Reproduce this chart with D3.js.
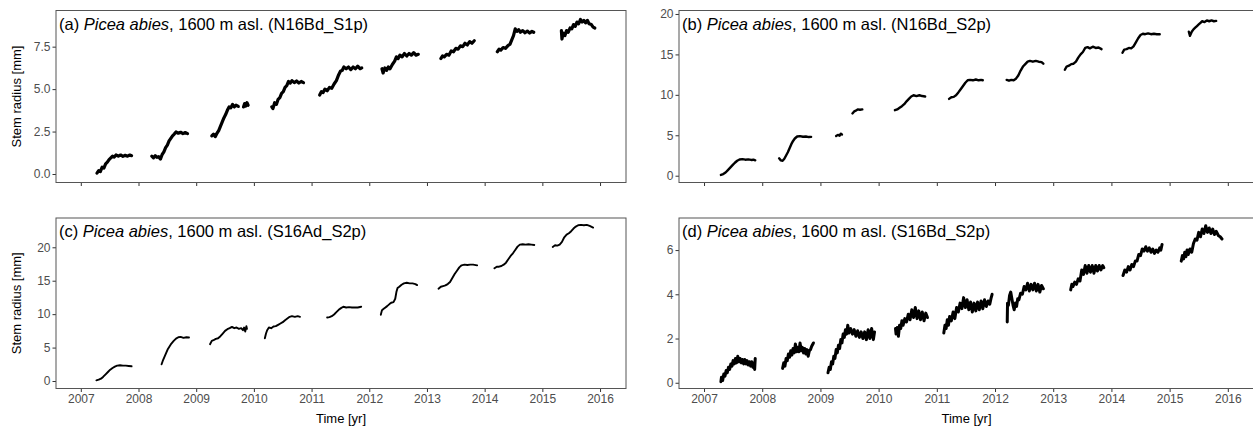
<!DOCTYPE html>
<html>
<head>
<meta charset="utf-8">
<script src="https://cdn.jsdelivr.net/npm/d3@7"></script>
<style>
  body { margin: 0; background: #fff; }
  svg { font-family: "Liberation Sans", Arial, Helvetica, sans-serif; }
</style>
</head>
<body>
<svg width="1253" height="431"></svg>
<script>
// Panel labels and sensor codes
var panelLetters = ["a", "b", "c", "d"];
var sensorCodes = ["N16Bd_S1p", "N16Bd_S2p", "S16Ad_S2p", "S16Bd_S2p"];

// Tick labels
var yearTicks = [2007, 2008, 2009, 2010, 2011, 2012, 2013, 2014, 2015, 2016];
var yTicksA = [0, 2.5, 5, 7.5];
var yTicksB = [0, 5, 10, 15, 20];
var yTicksC = [0, 5, 10, 15, 20];
var yTicksD = [0, 2, 4, 6];

// Stem radius [mm] per season, [year, value]
var radiusA = [
  [[2007.28,0.05],[2007.31,0.2],[2007.34,0.15],[2007.37,0.4],[2007.40,0.35],[2007.43,0.6],[2007.46,0.7],[2007.49,0.85],[2007.52,0.95],[2007.55,1.05],[2007.58,1.0],[2007.61,1.12],[2007.65,1.05],[2007.69,1.12],[2007.73,1.04],[2007.77,1.1],[2007.81,1.05],[2007.85,1.12],[2007.88,1.08]],
  [[2008.23,1.05],[2008.26,0.95],[2008.29,1.08],[2008.32,0.98],[2008.35,1.02],[2008.38,0.88],[2008.41,1.15],[2008.44,1.3],[2008.47,1.55],[2008.50,1.7],[2008.53,1.95],[2008.56,2.1],[2008.59,2.25],[2008.62,2.35],[2008.65,2.48],[2008.69,2.4],[2008.73,2.46],[2008.77,2.38],[2008.81,2.44],[2008.85,2.38]],
  [[2009.27,2.25],[2009.30,2.35],[2009.33,2.2],[2009.36,2.4],[2009.39,2.55],[2009.42,2.8],[2009.45,3.05],[2009.48,3.3],[2009.51,3.5],[2009.54,3.75],[2009.57,3.95],[2009.60,3.9],[2009.63,4.1],[2009.66,3.95],[2009.69,4.05],[2009.73,3.98]],
  [[2009.82,3.95],[2009.84,4.15],[2009.86,4.0],[2009.88,4.2],[2009.90,4.05]],
  [[2010.31,3.95],[2010.33,3.85],[2010.36,4.2],[2010.39,4.1],[2010.42,4.4],[2010.45,4.5],[2010.48,4.75],[2010.51,4.85],[2010.54,5.1],[2010.57,5.2],[2010.60,5.45],[2010.63,5.35],[2010.66,5.5],[2010.70,5.38],[2010.74,5.48],[2010.78,5.36],[2010.82,5.45],[2010.86,5.38]],
  [[2011.14,4.65],[2011.17,4.85],[2011.20,4.8],[2011.23,5.0],[2011.27,4.9],[2011.31,5.1],[2011.35,5.05],[2011.39,5.3],[2011.43,5.5],[2011.47,5.85],[2011.50,6.05],[2011.53,6.1],[2011.56,6.3],[2011.60,6.2],[2011.64,6.3],[2011.68,6.15],[2011.72,6.3],[2011.76,6.2],[2011.80,6.35],[2011.84,6.2],[2011.87,6.25]],
  [[2012.22,6.2],[2012.24,5.95],[2012.27,6.25],[2012.30,6.1],[2012.33,6.3],[2012.36,6.2],[2012.40,6.45],[2012.44,6.65],[2012.47,6.9],[2012.50,6.8],[2012.53,7.0],[2012.57,6.9],[2012.61,7.1],[2012.65,6.95],[2012.69,7.1],[2012.73,7.0],[2012.77,7.15],[2012.81,7.0],[2012.85,7.05]],
  [[2013.24,6.8],[2013.27,6.95],[2013.30,6.9],[2013.34,7.05],[2013.38,7.0],[2013.42,7.25],[2013.46,7.2],[2013.50,7.4],[2013.54,7.35],[2013.58,7.55],[2013.62,7.5],[2013.66,7.7],[2013.70,7.6],[2013.74,7.8],[2013.78,7.7],[2013.82,7.85]],
  [[2014.22,7.2],[2014.25,7.35],[2014.28,7.3],[2014.32,7.45],[2014.36,7.4],[2014.40,7.55],[2014.44,7.65],[2014.47,7.9],[2014.50,8.15],[2014.53,8.55],[2014.56,8.4],[2014.59,8.5],[2014.62,8.35],[2014.66,8.45],[2014.70,8.32],[2014.74,8.42],[2014.78,8.3],[2014.82,8.4],[2014.85,8.35]],
  [[2015.33,8.45],[2015.34,7.95],[2015.36,8.3],[2015.39,8.15],[2015.42,8.45],[2015.45,8.35],[2015.48,8.6],[2015.51,8.55],[2015.54,8.8],[2015.57,8.7],[2015.60,8.95],[2015.63,8.85],[2015.66,9.1],[2015.69,8.95],[2015.72,9.05],[2015.75,8.9],[2015.78,9.05],[2015.81,8.85],[2015.85,8.8],[2015.88,8.65],[2015.91,8.6]]
];

var radiusB = [
  [[2007.29,0.1],[2007.33,0.2],[2007.37,0.4],[2007.41,0.7],[2007.45,1.0],[2007.49,1.3],[2007.53,1.6],[2007.57,1.85],[2007.61,2.0],[2007.66,2.05],[2007.71,1.98],[2007.76,2.02],[2007.81,1.95],[2007.85,1.98],[2007.88,1.9]],
  [[2008.29,2.15],[2008.32,1.9],[2008.35,1.85],[2008.38,2.1],[2008.41,2.5],[2008.44,2.9],[2008.47,3.4],[2008.50,3.9],[2008.53,4.3],[2008.56,4.6],[2008.60,4.85],[2008.65,4.9],[2008.70,4.82],[2008.75,4.85],[2008.80,4.78],[2008.84,4.8]],
  [[2009.27,4.9],[2009.30,5.05],[2009.33,4.95],[2009.35,5.2],[2009.37,5.1]],
  [[2009.55,7.7],[2009.58,7.95],[2009.61,8.05],[2009.64,8.2],[2009.68,8.15],[2009.72,8.2]],
  [[2010.28,8.1],[2010.32,8.2],[2010.36,8.4],[2010.40,8.6],[2010.44,8.85],[2010.48,9.2],[2010.52,9.5],[2010.56,9.8],[2010.60,9.95],[2010.65,9.85],[2010.70,9.95],[2010.75,9.85],[2010.80,9.8]],
  [[2011.21,9.5],[2011.25,9.7],[2011.29,9.75],[2011.33,9.95],[2011.37,10.3],[2011.41,10.7],[2011.45,11.1],[2011.49,11.5],[2011.53,11.8],[2011.57,11.85],[2011.62,11.8],[2011.67,11.9],[2011.72,11.8],[2011.76,11.85],[2011.79,11.8]],
  [[2012.20,11.85],[2012.24,11.75],[2012.28,11.85],[2012.32,11.8],[2012.36,12.0],[2012.40,12.4],[2012.44,13.0],[2012.48,13.5],[2012.52,13.8],[2012.56,14.1],[2012.60,14.2],[2012.65,14.1],[2012.70,14.2],[2012.75,14.1],[2012.80,14.05],[2012.83,13.85]],
  [[2013.20,13.1],[2013.23,13.5],[2013.27,13.6],[2013.31,13.8],[2013.35,13.85],[2013.39,14.1],[2013.43,14.6],[2013.47,15.0],[2013.51,15.3],[2013.55,15.8],[2013.59,15.9],[2013.63,15.75],[2013.68,15.95],[2013.73,15.8],[2013.78,15.85],[2013.83,15.65]],
  [[2014.19,15.2],[2014.22,15.6],[2014.26,15.65],[2014.30,15.8],[2014.34,15.75],[2014.38,16.0],[2014.42,16.5],[2014.46,17.0],[2014.50,17.4],[2014.54,17.55],[2014.58,17.5],[2014.63,17.6],[2014.68,17.5],[2014.73,17.55],[2014.78,17.5],[2014.83,17.5]],
  [[2015.33,17.8],[2015.35,17.3],[2015.38,17.8],[2015.41,18.1],[2015.44,18.3],[2015.47,18.5],[2015.50,18.7],[2015.53,18.9],[2015.56,19.1],[2015.60,19.0],[2015.64,19.2],[2015.68,19.1],[2015.72,19.2],[2015.76,19.1],[2015.80,19.15]]
];

var radiusC = [
  [[2007.27,0.1],[2007.31,0.2],[2007.35,0.35],[2007.39,0.65],[2007.43,1.0],[2007.47,1.35],[2007.51,1.7],[2007.55,1.95],[2007.59,2.15],[2007.63,2.3],[2007.68,2.35],[2007.73,2.3],[2007.78,2.3],[2007.83,2.25],[2007.88,2.2]],
  [[2008.40,2.5],[2008.42,3.0],[2008.45,3.6],[2008.48,4.2],[2008.51,4.8],[2008.54,5.2],[2008.57,5.6],[2008.61,6.0],[2008.65,6.35],[2008.69,6.55],[2008.73,6.6],[2008.78,6.45],[2008.83,6.55],[2008.875,6.5]],
  [[2009.24,5.5],[2009.27,6.0],[2009.30,6.1],[2009.34,6.3],[2009.38,6.4],[2009.42,6.7],[2009.46,7.1],[2009.50,7.5],[2009.54,7.75],[2009.58,7.9],[2009.62,8.1],[2009.66,7.9],[2009.70,8.0],[2009.74,7.8],[2009.78,7.9],[2009.81,7.6],[2009.83,8.0],[2009.85,7.4],[2009.87,8.2],[2009.88,7.8]],
  [[2010.19,6.4],[2010.21,7.1],[2010.23,7.6],[2010.26,8.0],[2010.30,7.9],[2010.34,8.15],[2010.38,8.2],[2010.42,8.4],[2010.46,8.6],[2010.50,8.8],[2010.54,9.1],[2010.58,9.35],[2010.62,9.6],[2010.66,9.7],[2010.71,9.6],[2010.76,9.7],[2010.80,9.6]],
  [[2011.27,9.5],[2011.31,9.55],[2011.35,9.7],[2011.39,9.95],[2011.43,10.3],[2011.47,10.65],[2011.51,10.9],[2011.55,11.1],[2011.60,11.0],[2011.65,11.05],[2011.70,11.0],[2011.75,11.0],[2011.80,11.0],[2011.86,11.1]],
  [[2012.20,9.9],[2012.22,10.6],[2012.25,10.8],[2012.28,11.0],[2012.31,11.2],[2012.35,11.5],[2012.38,11.7],[2012.42,11.8],[2012.45,12.3],[2012.47,13.3],[2012.49,13.9],[2012.52,14.1],[2012.56,14.4],[2012.60,14.6],[2012.65,14.7],[2012.70,14.6],[2012.75,14.6],[2012.80,14.5],[2012.83,14.35]],
  [[2013.20,13.8],[2013.24,14.1],[2013.28,14.2],[2013.32,14.3],[2013.36,14.5],[2013.40,14.8],[2013.44,15.4],[2013.48,16.0],[2013.52,16.5],[2013.56,17.0],[2013.60,17.3],[2013.65,17.4],[2013.70,17.35],[2013.75,17.4],[2013.80,17.4],[2013.87,17.3]],
  [[2014.17,16.85],[2014.21,17.1],[2014.25,17.1],[2014.29,17.2],[2014.33,17.4],[2014.37,17.7],[2014.41,18.2],[2014.45,18.7],[2014.49,19.1],[2014.53,19.6],[2014.57,20.1],[2014.61,20.4],[2014.66,20.45],[2014.71,20.4],[2014.76,20.45],[2014.81,20.4],[2014.86,20.35]],
  [[2015.18,20.05],[2015.22,20.3],[2015.26,20.25],[2015.30,20.4],[2015.34,20.8],[2015.38,21.5],[2015.42,21.9],[2015.46,22.1],[2015.50,22.4],[2015.54,22.8],[2015.58,23.1],[2015.62,23.3],[2015.67,23.35],[2015.72,23.3],[2015.77,23.35],[2015.82,23.2],[2015.88,22.95]]
];

var radiusD = [
  [[2007.29,0.05],[2007.30,0.25],[2007.32,0.1],[2007.34,0.4],[2007.36,0.3],[2007.38,0.55],[2007.40,0.45],[2007.42,0.7],[2007.44,0.6],[2007.46,0.85],[2007.48,0.75],[2007.50,1.0],[2007.52,0.85],[2007.54,1.1],[2007.56,0.9],[2007.58,1.2],[2007.60,0.95],[2007.62,1.1],[2007.64,0.9],[2007.66,1.05],[2007.68,0.85],[2007.70,1.05],[2007.72,0.85],[2007.74,1.0],[2007.76,0.8],[2007.78,0.95],[2007.80,0.75],[2007.82,0.95],[2007.84,0.7],[2007.86,0.9],[2007.87,0.6],[2007.88,1.1]],
  [[2008.35,0.65],[2008.37,0.9],[2008.39,0.75],[2008.41,1.1],[2008.43,1.0],[2008.45,1.3],[2008.47,1.15],[2008.49,1.45],[2008.51,1.25],[2008.53,1.55],[2008.55,1.35],[2008.57,1.75],[2008.59,1.4],[2008.61,1.6],[2008.63,1.4],[2008.65,1.8],[2008.67,1.45],[2008.69,1.6],[2008.71,1.35],[2008.73,1.55],[2008.75,1.3],[2008.77,1.5],[2008.79,1.2],[2008.81,1.45],[2008.83,1.5],[2008.85,1.65],[2008.88,1.8]],
  [[2009.13,0.45],[2009.15,0.7],[2009.17,0.6],[2009.19,0.95],[2009.21,0.85],[2009.23,1.2],[2009.25,1.1],[2009.27,1.5],[2009.29,1.35],[2009.31,1.7],[2009.33,1.55],[2009.35,1.95],[2009.37,1.8],[2009.39,2.2],[2009.41,2.05],[2009.43,2.4],[2009.45,2.2],[2009.47,2.6],[2009.49,2.25],[2009.52,2.45],[2009.55,2.2],[2009.58,2.4],[2009.61,2.1],[2009.64,2.35],[2009.67,2.05],[2009.70,2.3],[2009.73,2.0],[2009.76,2.3],[2009.79,1.95],[2009.82,2.4],[2009.85,2.0],[2009.88,2.45],[2009.91,1.95],[2009.93,2.3]],
  [[2010.29,2.45],[2010.30,2.2],[2010.32,2.5],[2010.34,2.1],[2010.36,2.6],[2010.38,2.45],[2010.40,2.8],[2010.42,2.6],[2010.45,2.9],[2010.48,2.75],[2010.51,3.1],[2010.54,2.85],[2010.57,3.3],[2010.60,2.95],[2010.63,3.4],[2010.66,2.9],[2010.69,3.25],[2010.72,2.85],[2010.75,3.2],[2010.78,2.8],[2010.81,3.15],[2010.84,2.95]],
  [[2011.12,2.25],[2011.14,2.6],[2011.16,2.45],[2011.18,2.85],[2011.20,2.6],[2011.22,3.0],[2011.25,2.8],[2011.28,3.2],[2011.31,2.9],[2011.34,3.4],[2011.37,3.2],[2011.40,3.6],[2011.43,3.35],[2011.46,3.85],[2011.49,3.4],[2011.52,3.75],[2011.55,3.3],[2011.58,3.65],[2011.61,3.2],[2011.64,3.6],[2011.67,3.25],[2011.70,3.65],[2011.73,3.3],[2011.76,3.7],[2011.79,3.35],[2011.82,3.75],[2011.85,3.45],[2011.88,3.7],[2011.91,3.55],[2011.93,3.8],[2011.95,4.0]],
  [[2012.21,2.75],[2012.215,3.6],[2012.23,3.5],[2012.25,3.95],[2012.27,4.1],[2012.29,3.8],[2012.31,3.5],[2012.33,3.3],[2012.35,3.6],[2012.37,3.45],[2012.39,3.8],[2012.41,3.75],[2012.44,4.05],[2012.47,4.0],[2012.50,4.35],[2012.53,4.2],[2012.56,4.5],[2012.59,4.15],[2012.62,4.45],[2012.65,4.2],[2012.68,4.5],[2012.71,4.15],[2012.74,4.45],[2012.77,4.1],[2012.80,4.4],[2012.83,4.25]],
  [[2013.30,4.2],[2013.32,4.45],[2013.34,4.35],[2013.37,4.55],[2013.40,4.45],[2013.43,4.7],[2013.46,4.6],[2013.49,5.1],[2013.52,4.9],[2013.55,5.3],[2013.58,4.95],[2013.61,5.3],[2013.64,5.0],[2013.67,5.3],[2013.70,4.95],[2013.73,5.3],[2013.76,5.05],[2013.79,5.3],[2013.82,5.1],[2013.85,5.3],[2013.87,5.2]],
  [[2014.20,4.85],[2014.23,5.1],[2014.26,5.0],[2014.29,5.25],[2014.32,5.1],[2014.35,5.35],[2014.38,5.25],[2014.41,5.5],[2014.44,5.5],[2014.47,5.8],[2014.50,5.75],[2014.53,6.05],[2014.56,5.95],[2014.59,6.15],[2014.62,5.95],[2014.65,6.1],[2014.68,5.9],[2014.71,6.05],[2014.74,5.85],[2014.77,6.0],[2014.80,5.9],[2014.83,6.1],[2014.85,6.0],[2014.87,6.25]],
  [[2015.20,5.5],[2015.22,5.75],[2015.24,5.6],[2015.26,5.9],[2015.28,5.7],[2015.30,6.0],[2015.32,5.8],[2015.35,6.05],[2015.38,5.9],[2015.41,6.3],[2015.44,6.5],[2015.47,6.45],[2015.50,6.8],[2015.53,6.6],[2015.56,6.95],[2015.59,6.75],[2015.62,7.1],[2015.65,6.8],[2015.68,7.0],[2015.71,6.75],[2015.74,6.95],[2015.77,6.7],[2015.80,6.85],[2015.84,6.65],[2015.87,6.6],[2015.90,6.5]]
];

var svg = d3.select("svg");

// Panel layout (boxes in px) and scale limits
var panels = [
  { box: [56, 10.5, 626, 182.5], yDom: [-0.50, 9.63], ticks: yTicksA, fmt: d3.format(".1f"), data: radiusA, sw: 3.2, col: 0, row: 0 },
  { box: [679, 10.5, 1254, 182.5], yDom: [-0.84, 20.43], ticks: yTicksB, fmt: d3.format("d"), data: radiusB, sw: 2.4, col: 1, row: 0 },
  { box: [56, 218, 626, 388.5], yDom: [-1.12, 24.38], ticks: yTicksC, fmt: d3.format("d"), data: radiusC, sw: 1.9, col: 0, row: 1 },
  { box: [679, 218, 1254, 388.5], yDom: [-0.26, 7.45], ticks: yTicksD, fmt: d3.format("d"), data: radiusD, sw: 3.0, col: 1, row: 1 }
];

var xDom = [2006.57, 2016.45];

panels.forEach(function(p, i) {
  var x0 = p.box[0], y0 = p.box[1], x1 = p.box[2], y1 = p.box[3];

  var x = d3.scaleLinear().domain(xDom).range([x0, x1]);
  var y = d3.scaleLinear().domain(p.yDom).range([y1, y0]);

  var g = svg.append("g");

  // x axis
  var xAxis = d3.axisBottom(x)
      .tickValues(yearTicks)
      .tickSize(3.5)
      .tickPadding(2)
      .tickFormat(p.row === 1 ? d3.format("d") : "");
  var gx = g.append("g")
      .attr("transform", "translate(0," + y1 + ")")
      .call(xAxis);

  // y axis
  var yAxis = d3.axisLeft(y)
      .tickValues(p.ticks)
      .tickSize(3.5)
      .tickPadding(2)
      .tickFormat(p.fmt);
  var gy = g.append("g")
      .attr("transform", "translate(" + x0 + ",0)")
      .call(yAxis);

  [gx, gy].forEach(function(a) {
    a.select(".domain").remove();
    a.selectAll(".tick line").attr("stroke", "#333").attr("stroke-width", 1);
    a.selectAll(".tick text")
        .attr("fill", "#4d4d4d")
        .style("font-size", "12px")
        .style("font-family", "Liberation Sans, Arial, sans-serif");
  });

  // the line segments
  var line = d3.line()
      .x(function(d) { return x(d[0]); })
      .y(function(d) { return y(d[1]); });

  g.append("g")
    .selectAll("path")
    .data(p.data)
    .enter().append("path")
      .attr("d", line)
      .style("fill", "none")
      .style("stroke", "#000")
      .style("stroke-width", p.sw)
      .style("stroke-linejoin", "round")
      .style("stroke-linecap", "round");

  // panel border
  g.append("rect")
      .attr("x", x0)
      .attr("y", y0)
      .attr("width", x1 - x0)
      .attr("height", y1 - y0)
      .style("fill", "none")
      .style("stroke", "#555")
      .style("stroke-width", 1);

  // title inside the panel
  var t = g.append("text")
      .attr("x", x0 + 3)
      .attr("y", y0 + 19)
      .style("font-size", "16.5px")
      .attr("fill", "#000");
  t.append("tspan").text("(" + panelLetters[i] + ") ");
  t.append("tspan").style("font-style", "italic").text("Picea abies");
  t.append("tspan").text(", 1600 m asl. (" + sensorCodes[i] + ")");

  // axis titles
  if (p.row === 1) {
    g.append("text")
        .attr("x", (x0 + x1) / 2)
        .attr("y", 423)
        .attr("text-anchor", "middle")
        .style("font-size", "13px")
        .text("Time [yr]");
  }
  if (p.col === 0) {
    g.append("text")
        .attr("transform", "translate(21," + ((y0 + y1) / 2) + ") rotate(-90)")
        .attr("text-anchor", "middle")
        .style("font-size", "13px")
        .text("Stem radius [mm]");
  }
});
</script>
</body>
</html>
